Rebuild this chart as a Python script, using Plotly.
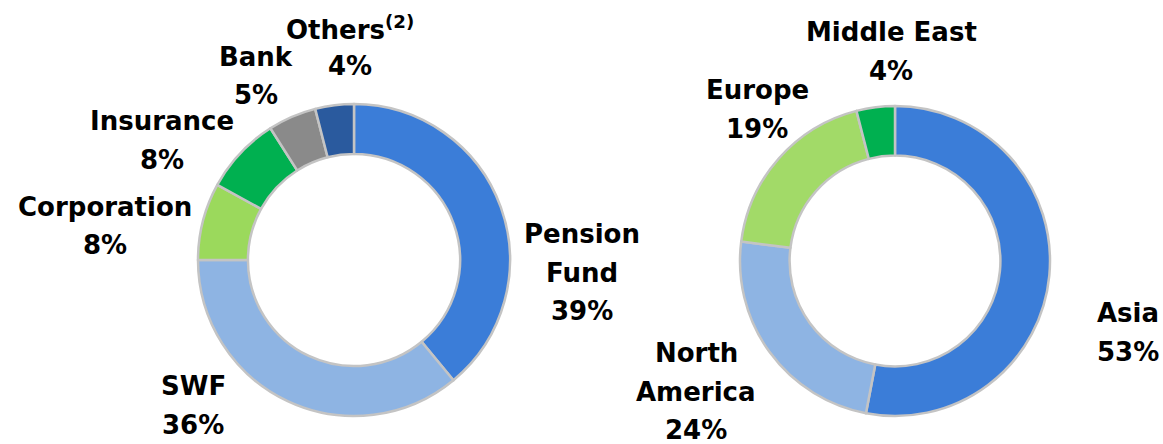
import plotly.graph_objects as go

# ---- data ----
investor_labels = ["Pension<br>Fund", "SWF", "Corporation", "Insurance", "Bank", "Others<sup>(2)</sup>"]
investor_values = [39, 36, 8, 8, 5, 4]
investor_colors = ["#3B7DD8", "#8EB4E3", "#9BD95C", "#00B050", "#8A8A8A", "#2A5A9E"]

region_labels = ["Asia", "North<br>America", "Europe", "Middle East"]
region_values = [53, 24, 19, 4]
region_colors = ["#3B7DD8", "#8EB4E3", "#A2DA68", "#00B050"]

# label anchor positions (pixel centres of first text line), styling only
investor_label_pos = [(582, 234), (193, 386), (105, 207), (162, 121), (256, 57), (350, 28)]
region_label_pos = [(1128, 313), (696, 353), (757, 90), (891, 32)]

W, H = 1163, 444
LINE = 38.5
FONT = dict(family="DejaVu Sans", size=26, color="black", weight="bold")

def dom(cx, cy, r):
    return dict(x=[(cx - r) / W, (cx + r) / W], y=[1 - (cy + r) / H, 1 - (cy - r) / H])

fig = go.Figure()
fig.add_trace(go.Pie(
    labels=investor_labels, values=investor_values, hole=0.68, sort=False,
    direction="clockwise", rotation=0, textinfo="none", hoverinfo="label+percent",
    marker=dict(colors=investor_colors, line=dict(color="#C4C4C4", width=2.5)),
    domain=dom(354, 260, 156), showlegend=False,
))
fig.add_trace(go.Pie(
    labels=region_labels, values=region_values, hole=0.68, sort=False,
    direction="clockwise", rotation=0, textinfo="none", hoverinfo="label+percent",
    marker=dict(colors=region_colors, line=dict(color="#C4C4C4", width=2.5)),
    domain=dom(895, 261, 155), showlegend=False,
))

annotations = []
def add_labels(labels, values, positions):
    for lab, val, (px, py) in zip(labels, values, positions):
        lines = lab.split("<br>") + [f"{val}%"]
        for i, line in enumerate(lines):
            annotations.append(dict(
                text=line, x=px / W, y=1 - (py + i * LINE) / H,
                xref="paper", yref="paper", xanchor="center", yanchor="middle",
                showarrow=False, font=FONT,
            ))

add_labels(investor_labels, investor_values, investor_label_pos)
add_labels(region_labels, region_values, region_label_pos)

fig.update_layout(
    width=W, height=H, margin=dict(l=0, r=0, t=0, b=0),
    paper_bgcolor="white", plot_bgcolor="white",
    annotations=annotations,
)
fig.write_html(
    "out.html",
    config={"displayModeBar": False},
    post_script="document.body.style.margin='0';document.body.style.overflow='hidden';",
)
